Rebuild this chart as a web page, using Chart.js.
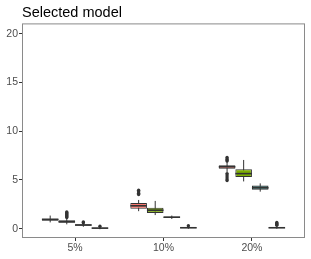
<!DOCTYPE html>
<html>
<head>
<meta charset="utf-8">
<script src="https://cdn.jsdelivr.net/npm/chart.js@4"></script>
<style>
  html, body { margin: 0; padding: 0; background: #fff; }
  #wrap { width: 311px; height: 259px; }
</style>
</head>
<body>
<div id="wrap"><canvas id="chart"></canvas></div>
<script>
// noise levels on the x axis
const categories = ['5%', '10%', '20%'];
const models = ['Model 1', 'Model 2', 'Model 3', 'Model 4'];
const fills = ['#F8766D', '#7CAE00', '#21908C', '#C77CFF'];
const yTicks = [0, 5, 10, 15, 20];

// box statistics, one value per category
const q1 = [
  [0.82, 2.05, 6.15],
  [0.62, 1.62, 5.30],
  [0.30, 1.10, 4.00],
  [0.02, 0.05, 0.05]
];
const medians = [
  [0.95, 2.35, 6.35],
  [0.72, 1.90, 5.65],
  [0.38, 1.18, 4.20],
  [0.06, 0.10, 0.10]
];
const q3 = [
  [1.05, 2.65, 6.50],
  [0.86, 2.15, 6.10],
  [0.45, 1.25, 4.42],
  [0.12, 0.15, 0.15]
];
const whiskLow = [
  [0.65, 1.80, 5.80],
  [0.45, 1.40, 4.85],
  [0.20, 1.00, 3.80],
  [-0.05, 0.00, 0.00]
];
const whiskHigh = [
  [1.35, 2.95, 6.85],
  [1.05, 2.85, 7.05],
  [0.52, 1.35, 4.65],
  [0.18, 0.22, 0.25]
];
const outliers = [
  [[], [3.50, 3.65, 3.80, 3.95], [6.95, 7.05, 7.15, 7.30, 5.65, 5.50, 5.30, 5.10, 4.95]],
  [[1.15, 1.25, 1.35, 1.45, 1.55, 1.65, 1.72], [], []],
  [[0.62, 0.70], [], []],
  [[0.25], [0.30], [0.35, 0.45, 0.55, 0.65]]
];

Chart.defaults.font.family = '"Liberation Sans", Arial, sans-serif';

const datasets = models.map((m, s) => ({
  label: m,
  data: categories.map((c, i) => ({ x: i + 1, y: [q1[s][i], q3[s][i]] })),
  backgroundColor: fills[s],
  borderColor: '#333333',
  borderWidth: 1.1,
  borderSkipped: false,
  categoryPercentage: 0.75,
  barPercentage: 1
}));

// whiskers behind the boxes, medians and outliers on top
const boxExtras = {
  id: 'boxExtras',
  beforeDatasetsDraw(chart) {
    const ctx = chart.ctx;
    const y = chart.scales.y;
    ctx.save();
    ctx.strokeStyle = '#333333';
    ctx.lineWidth = 1;
    chart.data.datasets.forEach((ds, s) => {
      chart.getDatasetMeta(s).data.forEach((bar, i) => {
        ctx.beginPath();
        ctx.moveTo(bar.x, y.getPixelForValue(whiskLow[s][i]));
        ctx.lineTo(bar.x, y.getPixelForValue(whiskHigh[s][i]));
        ctx.stroke();
      });
    });
    ctx.restore();
  },
  afterDatasetsDraw(chart) {
    const ctx = chart.ctx;
    const y = chart.scales.y;
    ctx.save();
    chart.data.datasets.forEach((ds, s) => {
      chart.getDatasetMeta(s).data.forEach((bar, i) => {
        const half = bar.width / 2;
        ctx.strokeStyle = '#333333';
        ctx.lineWidth = 1.6;
        const my = y.getPixelForValue(medians[s][i]);
        ctx.beginPath();
        ctx.moveTo(bar.x - half, my);
        ctx.lineTo(bar.x + half, my);
        ctx.stroke();
        ctx.fillStyle = '#333333';
        outliers[s][i].forEach(v => {
          ctx.beginPath();
          ctx.arc(bar.x, y.getPixelForValue(v), 1.7, 0, Math.PI * 2);
          ctx.fill();
        });
      });
    });
    // panel border
    const a = chart.chartArea;
    ctx.strokeStyle = '#8a8a8a';
    ctx.lineWidth = 1;
    ctx.strokeRect(a.left + 0.5, a.top + 0.5, a.right - a.left - 1, a.bottom - a.top - 1);
    ctx.restore();
  }
};

new Chart(document.getElementById('chart'), {
  type: 'bar',
  data: { datasets: datasets },
  options: {
    responsive: true,
    maintainAspectRatio: false,
    animation: false,
    layout: { padding: { right: 6, left: 0, top: 0, bottom: 0 } },
    plugins: {
      legend: { display: false },
      tooltip: { enabled: false },
      title: {
        display: true,
        text: 'Selected model',
        align: 'start',
        fullSize: false,
        color: '#000000',
        font: { size: 14.5, weight: 'normal' },
        padding: { top: 4.5, bottom: 1.5 }
      }
    },
    scales: {
      x: {
        type: 'linear',
        min: 0.4,
        max: 3.6,
        offset: false,
        grid: { offset: false, drawOnChartArea: false, tickLength: 3, color: '#333333' },
        border: { display: false },
        afterBuildTicks: (scale) => { scale.ticks = categories.map((c, i) => ({ value: i + 1 })); },
        afterFit: (scale) => { scale.height = 21; },
        ticks: {
          padding: 1,
          color: '#4D4D4D',
          font: { size: 10.5 },
          callback: (v) => categories[v - 1]
        }
      },
      y: {
        min: -0.95,
        max: 21.05,
        grid: { drawOnChartArea: false, tickLength: 3, color: '#333333' },
        border: { display: false },
        afterBuildTicks: (scale) => { scale.ticks = yTicks.map(v => ({ value: v })); },
        afterFit: (scale) => { scale.width = 22; },
        ticks: { padding: 1, color: '#4D4D4D', font: { size: 10.5 } }
      }
    }
  },
  plugins: [boxExtras]
});
</script>
</body>
</html>
